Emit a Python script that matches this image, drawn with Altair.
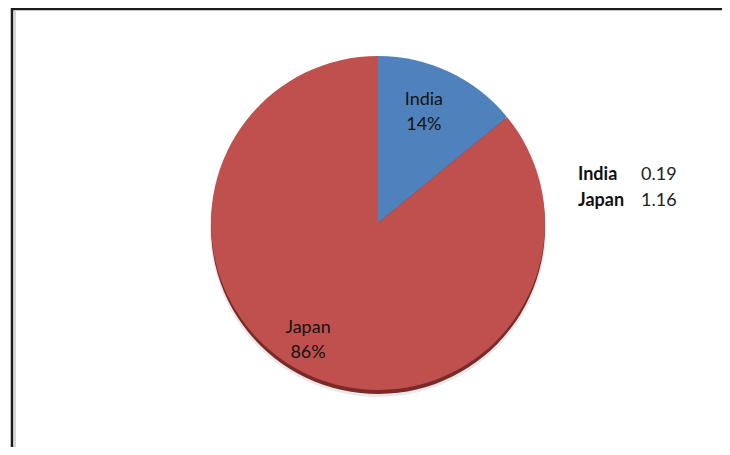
import altair as alt
import pandas as pd

countries = ["India", "Japan"]
values = [0.19, 1.16]
pct_labels = ["14%", "86%"]
value_labels = ["0.19", "1.16"]
colors = ["#4F81BD", "#C0504D"]

df = pd.DataFrame({
    "country": countries,
    "value": values,
    "pct": pct_labels,
    "vlabel": value_labels,
    "order": [0, 1],
})

CX, CY, R = 370, 215, 167
FONT = "Lato"

base = alt.Chart(df).encode(
    theta=alt.Theta("value:Q", stack=True),
    order=alt.Order("order:Q"),
    x=alt.value(CX),
    y=alt.value(CY),
)

shadow_soft = base.mark_arc(outerRadius=R + 1, color="#d9d9d9", opacity=0.6).encode(
    y=alt.value(CY + 6)
)
shadow = base.mark_arc(outerRadius=R, color="#7a2b29").encode(y=alt.value(CY + 4))

pie = base.mark_arc(outerRadius=R).encode(
    color=alt.Color("country:N", scale=alt.Scale(domain=countries, range=colors), legend=None)
)

lab_base = alt.Chart(df).transform_joinaggregate(
    total="sum(value)"
).transform_window(
    cum="sum(value)", sort=[alt.SortField("order")], frame=[None, 0]
).transform_calculate(
    mid="(datum.cum - datum.value / 2) / datum.total * 2 * PI"
).encode(
    theta=alt.Theta("mid:Q", scale=None),
    x=alt.value(CX),
    y=alt.value(CY),
)

def slice_labels(name, radius, offset):
    sub = lab_base.transform_filter(alt.datum.country == name)
    n = sub.mark_text(radius=radius, thetaOffset=offset, dy=-12, font=FONT, fontSize=18,
                      color="#141414").encode(text="country:N")
    p = sub.mark_text(radius=radius, thetaOffset=offset, dy=13, font=FONT, fontSize=18,
                      color="#141414").encode(text="pct:N")
    return n + p

lab_india = slice_labels("India", 120, -0.05)
lab_japan = slice_labels("Japan", 136, 0.098)

leg_y = alt.Y("country:N", axis=None,
              scale=alt.Scale(type="point", domain=countries, range=[172, 198], padding=0))
leg_names = alt.Chart(df).mark_text(align="left", baseline="alphabetic", font=FONT,
                                    fontSize=18, fontWeight="bold", color="#111").encode(
    x=alt.value(570), y=leg_y, text="country:N")
leg_vals = alt.Chart(df).mark_text(align="left", baseline="alphabetic", font=FONT,
                                   fontSize=18, color="#222").encode(
    x=alt.value(633), y=leg_y, text="vlabel:N")

frame_df = pd.DataFrame({"k": [0]})
frame_left = alt.Chart(frame_df).mark_rule(color="#1a1a1a", strokeWidth=2.5).encode(
    x=alt.value(4), y=alt.value(0), y2=alt.value(439))
frame_top = alt.Chart(frame_df).mark_rule(color="#1a1a1a", strokeWidth=2.5).encode(
    x=alt.value(4), x2=alt.value(714), y=alt.value(1))
frame_left_in = alt.Chart(frame_df).mark_rule(color="#c8c8c8", strokeWidth=1.5).encode(
    x=alt.value(7), y=alt.value(3), y2=alt.value(439))

chart = alt.layer(
    frame_left, frame_top, frame_left_in,
    shadow_soft, shadow, pie, lab_india, lab_japan, leg_names, leg_vals
).properties(
    width=714, height=439, autosize="none", padding=0, background="white"
).configure_view(stroke=None)

chart.save("out.html", embed_options={"renderer": "svg", "actions": False})
